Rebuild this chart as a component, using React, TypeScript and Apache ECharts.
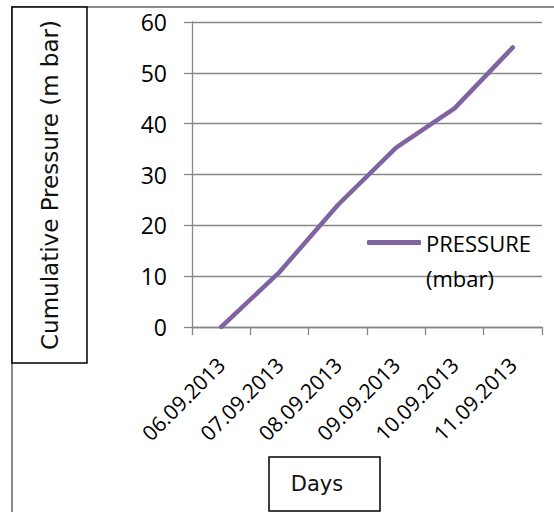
import React, { useEffect, useRef } from "react";
import * as echarts from "echarts";

const categories = ["06.09.2013", "07.09.2013", "08.09.2013", "09.09.2013", "10.09.2013", "11.09.2013"];
const pressure = [0, 10.8, 24, 35.3, 43, 55];
const seriesName = "PRESSURE (mbar)";
const yTitle = "Cumulative Pressure (m bar)";
const xTitle = "Days";

export default function App() {
  const ref = useRef<HTMLDivElement>(null);
  useEffect(() => {
    const chart = echarts.init(ref.current!, null, { renderer: "svg" });
    const gray = "#868686";
    const font = "Open Sans";
    chart.setOption({
      animation: false,
      backgroundColor: "#ffffff",
      grid: { left: 192, right: 12, top: 22, bottom: 185, containLabel: false },
      legend: {
        data: [seriesName],
        left: 367,
        top: 190,
        padding: 0,
        icon: "roundRect",
        itemWidth: 54,
        itemHeight: 5,
        formatter: () => "\nPRESSURE\n(mbar)",
        textStyle: { fontFamily: font, fontSize: 22, lineHeight: 35, color: "#000" },
      },
      xAxis: {
        type: "category",
        data: categories,
        boundaryGap: true,
        axisLine: { lineStyle: { color: gray, width: 1.3 } },
        axisTick: { show: true, alignWithLabel: false, length: 8, lineStyle: { color: gray, width: 1.3 } },
        axisLabel: { rotate: 45, fontFamily: font, fontSize: 21, color: "#000", margin: 34, padding: [14, 0, 0, 0], interval: 0 },
      },
      yAxis: {
        type: "value",
        min: 0,
        max: 60,
        interval: 10,
        axisLine: { show: true, lineStyle: { color: gray, width: 1.3 } },
        axisTick: { show: true, length: 8, lineStyle: { color: gray, width: 1.3 } },
        axisLabel: { fontFamily: font, fontSize: 23, color: "#000", margin: 25 },
        splitLine: { show: true, lineStyle: { color: gray, width: 1.3 } },
      },
      series: [
        {
          name: seriesName,
          type: "line",
          data: pressure,
          symbol: "none",
          showSymbol: false,
          color: "#8064A2",
          lineStyle: { color: "#8064A2", width: 4.5, cap: "round", join: "round" },
        },
      ],
      graphic: [
        {
          type: "polyline",
          shape: { points: [[12, 512], [12, 7], [554, 7]] },
          style: { stroke: "#8c8c8c", lineWidth: 2, fill: "none" },
          z: 0,
        },
        {
          type: "rect",
          shape: { x: 12, y: 7, width: 75, height: 356 },
          style: { stroke: "#000", lineWidth: 1.5, fill: "#fff" },
          z: 1,
        },
        {
          type: "text",
          x: 50,
          y: 185,
          rotation: Math.PI / 2,
          style: {
            text: yTitle,
            fontFamily: "DejaVu Sans",
            fontSize: 23,
            fill: "#111",
            align: "center",
            verticalAlign: "middle",
          },
          z: 2,
        },
        {
          type: "rect",
          shape: { x: 269, y: 457, width: 111, height: 54 },
          style: { stroke: "#000", lineWidth: 1.5, fill: "#fff" },
          z: 1,
        },
        {
          type: "text",
          x: 317,
          y: 484,
          style: {
            text: xTitle,
            fontFamily: "DejaVu Sans",
            fontSize: 21,
            fill: "#111",
            align: "center",
            verticalAlign: "middle",
          },
          z: 2,
        },
      ],
    });
    return () => chart.dispose();
  }, []);
  return <div ref={ref} style={{ width: 554, height: 512, position: "absolute", left: 0, top: 0 }} />;
}
